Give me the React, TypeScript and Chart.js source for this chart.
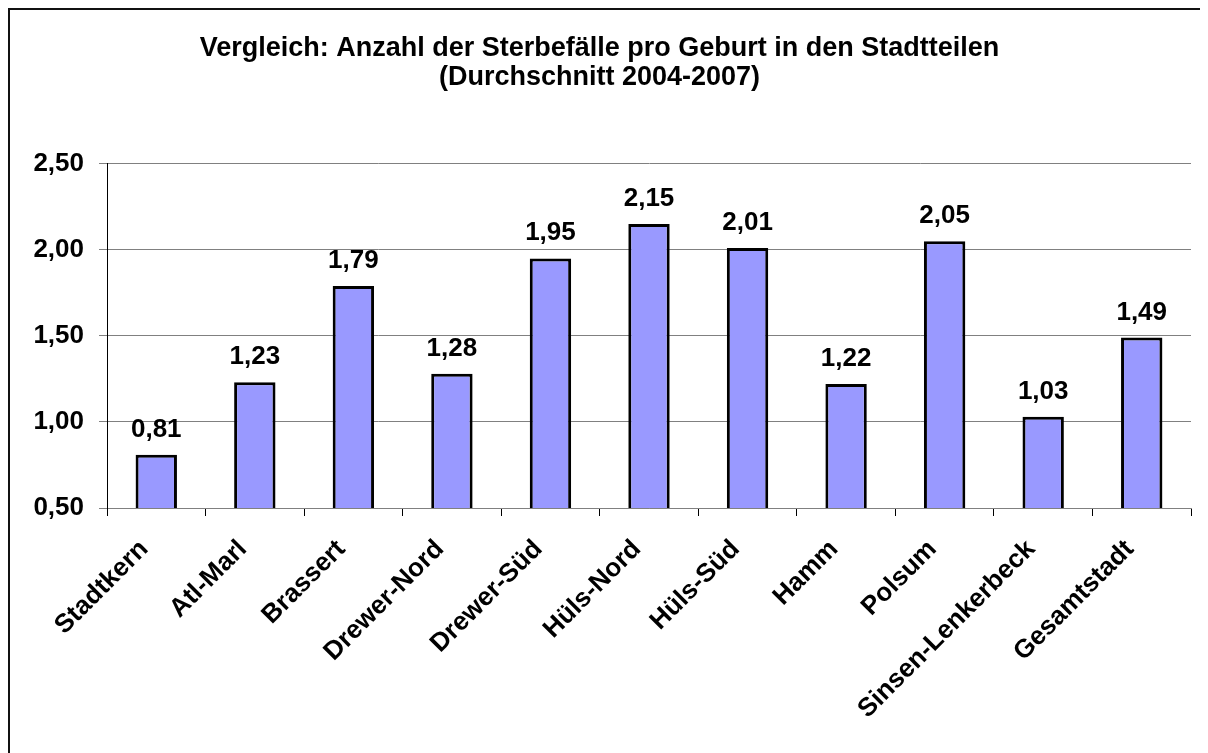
import React, { useEffect, useRef } from "react";
import { Chart, registerables } from "chart.js";

Chart.register(...registerables);

const categories = [
  "Stadtkern",
  "Atl-Marl",
  "Brassert",
  "Drewer-Nord",
  "Drewer-Süd",
  "Hüls-Nord",
  "Hüls-Süd",
  "Hamm",
  "Polsum",
  "Sinsen-Lenkerbeck",
  "Gesamtstadt",
];
const values = [0.81, 1.23, 1.79, 1.28, 1.95, 2.15, 2.01, 1.22, 2.05, 1.03, 1.49];
const titleLines = [
  "Vergleich: Anzahl der Sterbefälle pro Geburt in den Stadtteilen",
  "(Durchschnitt 2004-2007)",
];
const yMin = 0.5;
const yMax = 2.5;
const yStep = 0.5;

const FONT = '"Liberation Sans", Arial, Helvetica, sans-serif';
const fmt = (v: number) => v.toFixed(2).replace(".", ",");

const framePlugin = {
  id: "frame",
  afterDraw(chart: any) {
    const ctx = chart.ctx;
    ctx.save();
    ctx.strokeStyle = "#111";
    ctx.lineWidth = 2;
    ctx.beginPath();
    ctx.moveTo(1, chart.height);
    ctx.lineTo(1, 1);
    ctx.lineTo(chart.width, 1);
    ctx.stroke();
    ctx.restore();
  },
};

const valueLabels = {
  id: "valueLabels",
  afterDatasetsDraw(chart: any) {
    const ctx = chart.ctx;
    const meta = chart.getDatasetMeta(0);
    ctx.save();
    ctx.font = `bold 26px ${FONT}`;
    ctx.fillStyle = "#000";
    ctx.textAlign = "center";
    ctx.textBaseline = "alphabetic";
    meta.data.forEach((bar: any, i: number) => {
      ctx.fillText(fmt(values[i]), bar.x, bar.y - 18);
    });
    ctx.restore();
  },
};

export default function App() {
  const ref = useRef<HTMLCanvasElement>(null);
  useEffect(() => {
    document.documentElement.style.overflow = "hidden";
    if (!ref.current) return;
    const chart = new Chart(ref.current, {
      type: "bar",
      data: {
        labels: categories,
        datasets: [
          {
            data: values,
            backgroundColor: "#9999FF",
            borderColor: "#000",
            borderWidth: 3,
            barPercentage: 0.42,
            categoryPercentage: 1,
          },
        ],
      },
      options: {
        animation: false,
        responsive: false,
        layout: { padding: { left: 0, right: 17, top: 0, bottom: 0 } },
        plugins: {
          legend: { display: false },
          tooltip: { enabled: false },
          title: {
            display: true,
            text: titleLines,
            color: "#000",
            font: { family: FONT, size: 27, weight: "bold", lineHeight: 1.07 },
            padding: { top: 26, bottom: 72 },
          },
        },
        scales: {
          x: {
            offset: true,
            grid: {
              offset: true,
              drawOnChartArea: false,
              drawTicks: true,
              tickLength: 8,
              tickColor: "#000",
              color: "#000",
            },
            border: { color: "#808080", width: 1 },
            ticks: {
              autoSkip: false,
              minRotation: 45,
              maxRotation: 45,
              color: "#000",
              padding: 18,
              labelOffset: -12,
              font: { family: FONT, size: 26, weight: "bold" },
            },
            afterFit(scale: any) {
              scale.height = 245;
            },
          },
          y: {
            min: yMin,
            max: yMax,
            ticks: {
              stepSize: yStep,
              color: "#000",
              padding: 15,
              font: { family: FONT, size: 26, weight: "bold" },
              callback: (v: any) => fmt(Number(v)),
            },
            grid: { color: "#808080", tickLength: 8, lineWidth: 1 },
            border: { color: "#000", width: 1 },
            afterFit(scale: any) {
              scale.width = 99;
            },
          },
        },
      },
      plugins: [valueLabels, framePlugin],
    });
    return () => chart.destroy();
  }, []);
  return (
    <div style={{ width: 1200, height: 745 }}>
      <canvas ref={ref} width={1200} height={745} style={{ display: "block" }} />
    </div>
  );
}
